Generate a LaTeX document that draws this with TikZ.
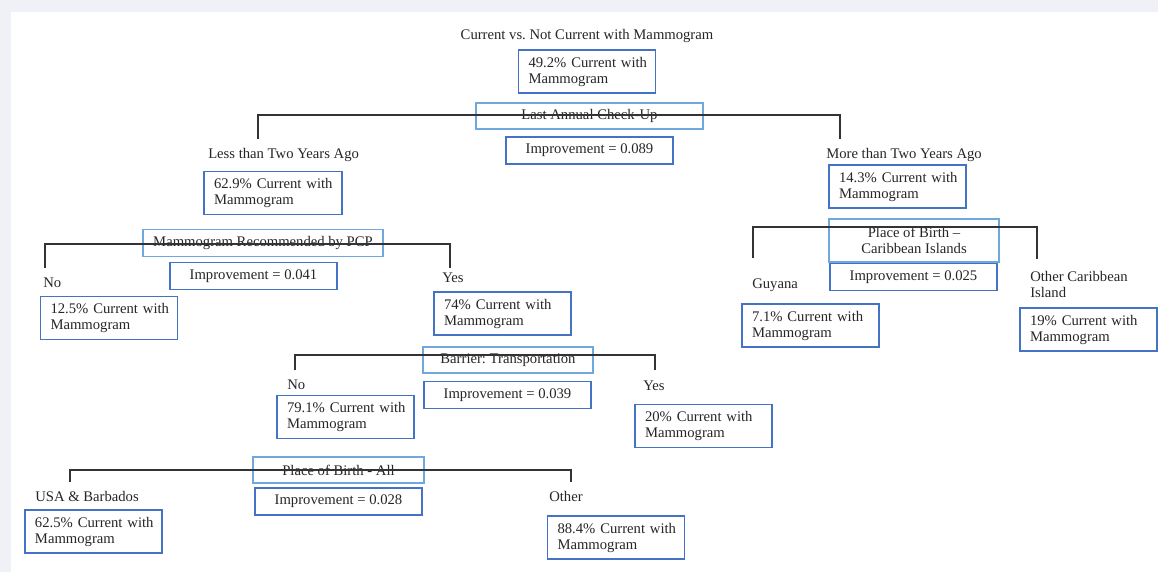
\documentclass[tikz,border=0pt]{standalone}
\usepackage{fontspec}
\setmainfont{Liberation Serif}
\frenchspacing
\newdimen\PX \PX=0.75pt
\definecolor{bgray}{HTML}{EFF1F6}
\definecolor{dboxc}{HTML}{4472C4}
\definecolor{sboxc}{HTML}{6FA8DC}
\definecolor{linec}{HTML}{333333}
\newcommand{\cw}[1]{\mbox{#1 Current with}\\Mammogram}
\begin{document}
\begin{tikzpicture}[x=0.75pt,y=-0.75pt,
  every node/.style={font=\fontsize{11}{12}\selectfont, text=black!85},
  lbl/.style={inner sep=0pt, anchor=west, align=left},
  dbox/.style={draw=dboxc, line width=1.1pt, inner xsep=10\PX, inner ysep=0pt,
    text width=117\PX, minimum height=43\PX, align=left},
  sbox/.style={draw=sboxc, line width=0.8pt, inner sep=0pt, align=center},
  ibox/.style={draw=dboxc, line width=1.1pt, inner sep=0pt, minimum width=167\PX, minimum height=27\PX},
  tline/.style={draw=linec, line width=0.9pt}]
\fill[bgray] (0,0) rectangle (1158,572);
\fill[white] (11,12) rectangle (1158,572);
\useasboundingbox (0,0) rectangle (1158,572);

% root
\node (title) at (587,36) {Current vs. Not Current with Mammogram};
\node[dbox] (root) at (587,71.5) {\cw{49.2\%}};
\node[sbox, minimum width=227\PX, minimum height=26\PX] (s1) at (589.5,116) {Last Annual Check-Up};
\node[ibox] (i1) at (589.5,150.5) {Improvement = 0.089};
\coordinate (e1L) at (258,139);
\coordinate (e1R) at (840,139);
\draw[tline] (e1L) -- ++(0,-24) coordinate (c1L) -- (c1L -| e1R) -- (e1R);

% level 1
\node[lbl] (lessl) at (208,155) {Less than Two Years Ago};
\node[dbox, text width=118\PX] (L1) at (273,193) {\cw{62.9\%}};
\node[lbl] (morel) at (826,155) {More than Two Years Ago};
\node[dbox] (R1) at (897.5,186.5) {\cw{14.3\%}};

% right split
\node[sbox, minimum width=170\PX, minimum height=43\PX] (s2) at (914,240.5) {Place of Birth --\\Caribbean Islands};
\node[ibox] (i2) at (913.5,277) {Improvement = 0.025};
\coordinate (e2L) at (753,258);
\coordinate (e2R) at (1037,259);
\draw[tline] (e2L) -- ++(0,-31) coordinate (c2L) -- (c2L -| e2R) -- (e2R);
\node[lbl] (guy) at (752,285) {Guyana};
\node[dbox] (R2a) at (810.5,325.5) {\cw{7.1\%}};
\node[lbl] (othc) at (1030,284) {Other Caribbean\\Island};
\node[dbox] (R2b) at (1088.5,329.5) {\cw{19\%}};

% PCP split
\node[sbox, minimum width=240\PX, minimum height=27\PX] (s3) at (263,243) {Mammogram Recommended by PCP};
\node[ibox] (i3) at (253.5,276) {Improvement = 0.041};
\coordinate (e3L) at (45,268);
\coordinate (e3R) at (450,268);
\draw[tline] (e3L) -- ++(0,-24) coordinate (c3L) -- (c3L -| e3R) -- (e3R);
\node[lbl] (no3) at (43,283) {No};
\node[dbox] (L2a) at (109,318) {\cw{12.5\%}};
\node[lbl] (yes3) at (442,278) {Yes};
\node[dbox] (L2b) at (502.5,313.5) {\cw{74\%}};

% Barrier split
\node[sbox, minimum width=170\PX, minimum height=26\PX] (s4) at (508,360) {Barrier: Transportation};
\node[ibox] (i4) at (507.5,395) {Improvement = 0.039};
\coordinate (e4L) at (295,370);
\coordinate (e4R) at (655,370);
\draw[tline] (e4L) -- ++(0,-15) coordinate (c4L) -- (c4L -| e4R) -- (e4R);
\node[lbl] (no4) at (287,385) {No};
\node[dbox] (L3a) at (345.5,417) {\cw{79.1\%}};
\node[lbl] (yes4) at (643,386) {Yes};
\node[dbox] (L3b) at (703.5,426) {\cw{20\%}};

% Place of birth - All split
\node[sbox, minimum width=171\PX, minimum height=26\PX] (s5) at (338.5,470) {Place of Birth - All};
\node[ibox] (i5) at (338.5,501.5) {Improvement = 0.028};
\coordinate (e5L) at (70,482);
\coordinate (e5R) at (571,482);
\draw[tline] (e5L) -- ++(0,-12) coordinate (c5L) -- (c5L -| e5R) -- (e5R);
\node[lbl] (usa) at (35,496) {USA \& Barbados};
\node[dbox] (L4a) at (93.5,531.5) {\cw{62.5\%}};
\node[lbl] (oth) at (549,496) {Other};
\node[dbox] (L4b) at (616,537.5) {\cw{88.4\%}};
\end{tikzpicture}
\end{document}
